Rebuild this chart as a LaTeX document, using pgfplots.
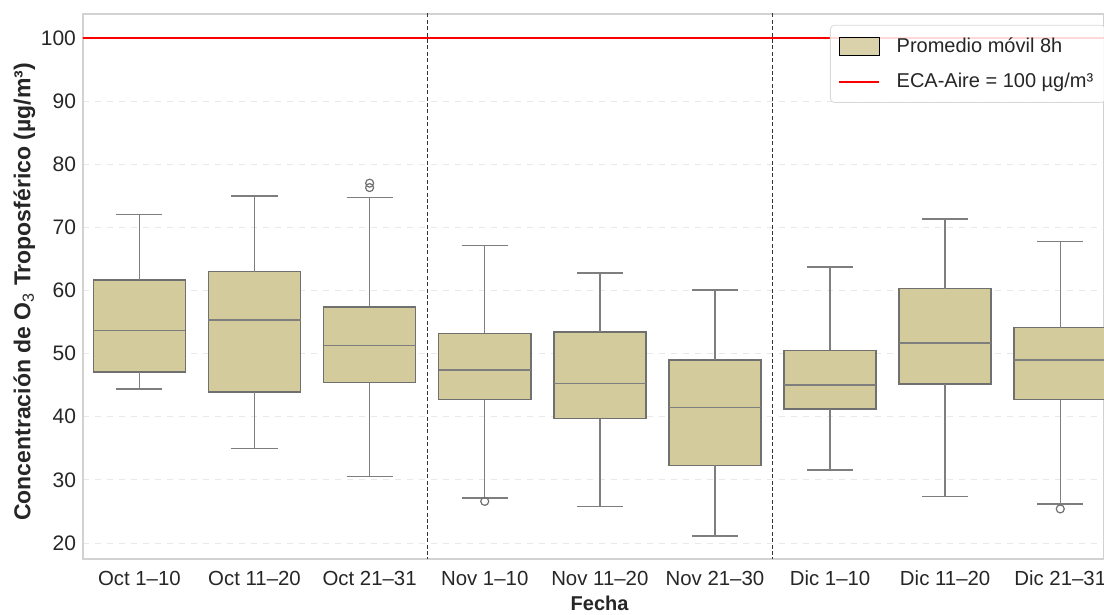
\documentclass[border=0pt]{standalone}
\usepackage{fontspec}
\setmainfont{Liberation Sans}
\usepackage{pgfplots}
\pgfplotsset{compat=1.18}
\usetikzlibrary{calc}
\definecolor{boxfill}{RGB}{212,203,156}
\definecolor{boxedge}{RGB}{112,112,112}
\definecolor{txt}{RGB}{38,38,38}
\pgfplotsset{
  boxst/.style={draw=boxedge, fill=boxfill, line width=0.75pt, mark=none},
  wst/.style={draw=boxedge!90, line width=0.75pt, mark=none},
}
% \bx{position}{lower whisker}{lower quartile}{median}{upper quartile}{upper whisker}
\newcommand{\bx}[6]{%
  \pgfmathsetmacro\xl{#1-0.4}\pgfmathsetmacro\xr{#1+0.4}%
  \pgfmathsetmacro\kl{#1-0.2}\pgfmathsetmacro\kr{#1+0.2}%
  \edef\tmp{%
    \noexpand\addplot[boxst] coordinates {(\xl,#3) (\xr,#3) (\xr,#5) (\xl,#5)} --cycle;
    \noexpand\addplot[wst] coordinates {(#1,#2) (#1,#3) (#1,nan) (#1,#5) (#1,#6) (#1,nan)
      (\kl,#2) (\kr,#2) (#1,nan) (\kl,#6) (\kr,#6) (#1,nan) (\xl,#4) (\xr,#4)};
  }\tmp}
\begin{document}
\begin{tikzpicture}
\begin{axis}[
  name=ax, scale only axis, width=510.5pt, height=272.5pt,
  xmin=-0.49, xmax=8.38, ymin=17.47, ymax=103.8,
  unbounded coords=jump,
  xtick={0,...,8},
  xticklabels={Oct 1–10, Oct 11–20, Oct 21–31, Nov 1–10, Nov 11–20, Nov 21–30, Dic 1–10, Dic 11–20, Dic 21–31},
  ytick={20,30,...,100},
  major tick length=0pt,
  axis line style={gray!35, line width=0.6pt},
  ymajorgrids, grid style={gray!18, dashed, line width=0.4pt},
  tick label style={font=\fontsize{10.2}{12}\selectfont, text=txt},
  yticklabel style={font=\fontsize{10.5}{12}\selectfont},
  xticklabel style={yshift=-2.5pt},
  /pgf/number format/assume math mode=true,
  xlabel={\bfseries Fecha},
  ylabel={\bfseries Concentración de O\textsubscript{\mdseries 3} Troposférico (µg/m³)},
  xlabel style={font=\fontsize{10}{12}\selectfont, text=txt, at={(axis description cs:0.506,-0.0807)}, anchor=center},
  ylabel style={font=\fontsize{11.5}{13}\selectfont, text=txt, at={(axis description cs:-0.0575,0.49)}, anchor=center},
  legend style={at={(0.7316,0.98)}, anchor=north west, draw=gray!30, rounded corners=2pt,
    fill=white, fill opacity=0.85, text opacity=1, font=\fontsize{10}{12}\selectfont,
    text=txt, row sep=5pt, inner xsep=4pt, inner ysep=4pt},
  legend cell align=left,
]
\addlegendimage{legend image code/.code={\draw[sharp corners, fill=boxfill, draw=black, line width=0.6pt] (0pt,-4.5pt) rectangle (20pt,4.5pt); \path (26.5pt,0pt);}}
\addlegendimage{legend image code/.code={\draw[red, line width=0.9pt] (0pt,0pt) -- (20pt,0pt); \path (26.5pt,0pt);}}
\legend{Promedio móvil 8h, ECA-Aire = 100 µg/m³\hspace{8pt}}

\bx{0}{44.4}{47.1}{53.7}{61.7}{72.0}
\bx{1}{35.0}{43.9}{55.3}{63.0}{75.0}
\bx{2}{30.5}{45.4}{51.3}{57.4}{74.7}
\bx{3}{27.1}{42.7}{47.4}{53.2}{67.1}
\bx{4}{25.8}{39.7}{45.3}{53.4}{62.8}
\bx{5}{21.1}{32.3}{41.5}{49.0}{60.1}
\bx{6}{31.6}{41.2}{45.0}{50.5}{63.7}
\bx{7}{27.4}{45.2}{51.7}{60.3}{71.3}
\bx{8}{26.2}{42.7}{49.0}{54.1}{67.8}
% outliers
\addplot[only marks, mark=o, mark size=2pt, mark options={draw=boxedge, line width=0.6pt}]
  coordinates {(2,76.3) (2,77.0) (3,26.6) (8,25.4)};

\addplot[red, line width=0.9pt] coordinates {(-0.6,100) (8.6,100)};
\addplot[black!80, line width=0.6pt, dash pattern=on 2pt off 1.2pt] coordinates {(2.5,10) (2.5,110)};
\addplot[black!80, line width=0.6pt, dash pattern=on 2pt off 1.2pt] coordinates {(5.5,10) (5.5,110)};
\end{axis}
\pgfresetboundingbox
\path[use as bounding box] ($(ax.south west)+(-41.5pt,-28pt)$) rectangle ($(ax.north east)+(0pt,7pt)$);
\end{tikzpicture}
\end{document}
